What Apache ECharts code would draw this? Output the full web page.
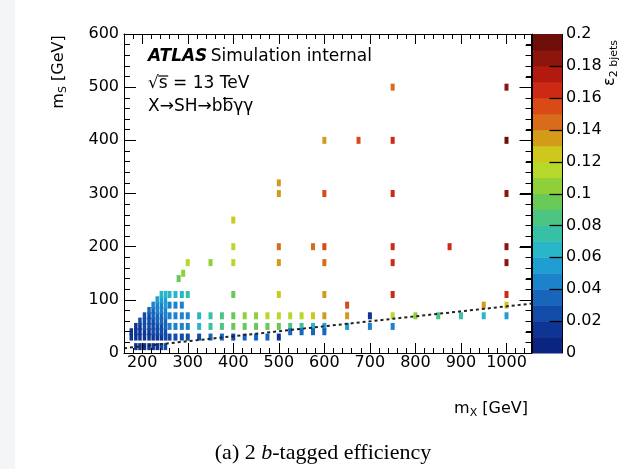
<!DOCTYPE html>
<html>
<head>
<meta charset="utf-8">
<script src="https://cdn.jsdelivr.net/npm/echarts@6/dist/echarts.min.js"></script>
<style>
html,body{margin:0;padding:0;background:#ffffff;}
#c{width:628px;height:469px;}
</style>
</head>
<body>
<div id="c"></div>
<script>
// ---------- data ----------
const xMajorTicks = [200, 300, 400, 500, 600, 700, 800, 900, 1000];
const zMajorTicks = [0.02, 0.04, 0.06, 0.08, 0.1, 0.12, 0.14, 0.16, 0.18];
const effEdges = [0, 0.01, 0.02, 0.03, 0.04, 0.05, 0.06, 0.07, 0.08, 0.09, 0.1,
                  0.11, 0.12, 0.13, 0.14, 0.15, 0.16, 0.17, 0.18, 0.19, 0.2];
const palette = ['#0b2482', '#0f3594', '#134ca8', '#1866bc', '#1c82cc', '#209ed2',
                 '#28b6c8', '#38c0a6', '#4cc482', '#68c858', '#8fcf3a', '#b6d82a',
                 '#cdc71e', '#d49a1a', '#d86c1a', '#d84a16', '#cc2a14', '#b21a10',
                 '#8c150c', '#6e0e0a'];

// [mX, mS, efficiency]
const triangleCells = [
  [176,30,0.012],[176,40,0.014],
  [186,30,0.012],[186,40,0.015],[186,50,0.017],
  [195,30,0.013],[195,40,0.016],[195,50,0.019],[195,60,0.021],
  [205,30,0.014],[205,40,0.018],[205,50,0.021],[205,60,0.024],[205,70,0.027],
  [215,30,0.015],[215,40,0.019],[215,50,0.023],[215,60,0.026],[215,70,0.029],[215,80,0.032],
  [224,30,0.016],[224,40,0.021],[224,50,0.025],[224,60,0.028],[224,70,0.032],[224,80,0.036],[224,90,0.04],
  [233,30,0.018],[233,40,0.023],[233,50,0.027],[233,60,0.031],[233,70,0.035],[233,80,0.04],[233,90,0.045],[233,100,0.05],
  [242,30,0.019],[242,40,0.024],[242,50,0.029],[242,60,0.033],[242,70,0.038],[242,80,0.043],[242,90,0.048],[242,100,0.053],[242,110,0.06],
  [251,30,0.02],[251,40,0.026],[251,50,0.031],[251,60,0.036],[251,70,0.041],[251,80,0.046],[251,90,0.05],[251,100,0.055],[251,110,0.063]
];
const bottomRowCells = [
  [186,12,0.016],[195,12,0.015],[205,12,0.015],[215,12,0.016],
  [224,12,0.017],[233,12,0.018],[242,12,0.02],[251,12,0.022]
];
const nearBlockCells = [
  [260,110,0.062],[273,110,0.064],[287,110,0.066],[300,110,0.072],
  [260,90,0.045],[273,90,0.046],[287,90,0.047],
  [260,70,0.044],[273,70,0.045],[287,70,0.046],[300,70,0.048],
  [260,50,0.04],[273,50,0.041],[287,50,0.042],[300,50,0.043],
  [260,30,0.024],[273,30,0.025],[287,30,0.026],[300,30,0.027]
];
const midRowCells = [
  [400,110,0.098],[500,110,0.122],[600,110,0.135],
  [325,70,0.066],[350,70,0.078],[375,70,0.088],[400,70,0.095],[425,70,0.1],[450,70,0.105],
  [475,70,0.11],[500,70,0.115],[525,70,0.115],[550,70,0.118],[575,70,0.122],[600,70,0.135],
  [325,50,0.064],[350,50,0.074],[375,50,0.082],[400,50,0.09],[425,50,0.094],[450,50,0.095],
  [475,50,0.095],[500,50,0.093],[525,50,0.086],[550,50,0.078],[575,50,0.068],[600,50,0.058],
  [325,30,0.028],[350,30,0.032],[375,30,0.033],[400,30,0.022],[425,30,0.031],[450,30,0.034],
  [475,30,0.036],[500,30,0.018],[525,40,0.036],[550,40,0.037],[575,40,0.038],[600,40,0.036]
];
const highMassCells = [
  [650,90,0.155],[650,70,0.138],[650,50,0.056],
  [700,70,0.018],[700,50,0.045],
  [750,110,0.165],[750,70,0.115],[750,50,0.044],
  [800,70,0.102],[850,70,0.086],[900,70,0.075],
  [950,90,0.135],[950,70,0.066],
  [1000,110,0.162],[1000,90,0.125],[1000,70,0.056]
];
const upperCells = [
  [280,140,0.095],[290,150,0.1],[300,170,0.115],[350,170,0.102],[400,170,0.115],
  [400,200,0.115],[400,250,0.122],
  [500,170,0.135],[500,200,0.145],[500,300,0.138],[500,320,0.135],
  [575,200,0.145],[600,170,0.145],[600,200,0.155],[600,300,0.155],[600,400,0.135],
  [675,400,0.155],
  [750,170,0.165],[750,200,0.165],[750,300,0.165],[750,400,0.165],[750,500,0.145],
  [875,200,0.162],
  [1000,170,0.185],[1000,200,0.185],[1000,300,0.182],[1000,400,0.195],[1000,500,0.185]
];
const cutLine = [[160, 9], [1056, 93]];

// ---------- chart ----------
const SANS = '"DejaVu Sans", sans-serif';
const SERIF = '"Liberation Serif", "Times New Roman", serif';
const chart = echarts.init(document.getElementById('c'), null, {renderer: 'canvas'});

const mctx = document.createElement('canvas').getContext('2d');
function textWidth(t, font) { mctx.font = font; return mctx.measureText(t).width; }
const f17 = '17px "DejaVu Sans"';
const sqrtX0 = 148 + textWidth('\u221A', f17) - 0.5;
const sqrtX1 = 148 + textWidth('\u221As', f17) + 0.5;
const barX0 = 148 + textWidth('X\u2192SH\u2192b', f17) + 0.5;
const barX1 = 148 + textWidth('X\u2192SH\u2192bb', f17) - 0.5;

const pieces = palette.map((c, i) => ({gte: effEdges[i], lt: effEdges[i + 1], color: c}));
const colorbarData = palette.map((c, i) => [0, effEdges[i], effEdges[i + 1], i]);
const colorbarTickData = zMajorTicks.map(v => [0, v]);

const black = '#000';
function majorX(pos, showLabel) {
  return {
    gridIndex: 0, type: 'value', position: pos, min: 160, max: 1056, z: 10,
    axisLine: {show: true, onZero: false, lineStyle: {color: black, width: 1}},
    axisTick: {show: true, inside: true, length: 10, customValues: xMajorTicks, lineStyle: {color: black, width: 1}},
    axisLabel: showLabel ? {show: true, customValues: xMajorTicks, fontSize: 16, fontFamily: SANS, color: black, margin: 2,
                            formatter: v => String(v)}
                         : {show: false},
    splitLine: {show: false}
  };
}
function minorX(pos) {
  return {
    gridIndex: 0, type: 'value', position: pos, min: 160, max: 1056, interval: 20, z: 10,
    axisLine: {show: false, onZero: false},
    axisTick: {show: true, inside: true, length: 5, lineStyle: {color: black, width: 1}},
    axisLabel: {show: false}, splitLine: {show: false}
  };
}
function yMain(pos, showLabel) {
  return {
    gridIndex: 0, type: 'value', position: pos, min: 0, max: 600, interval: 100, z: 10,
    axisLine: {show: true, onZero: false, lineStyle: {color: black, width: 1}},
    axisTick: {show: true, inside: true, length: 12, lineStyle: {color: black, width: 1}},
    minorTick: {show: true, splitNumber: 5, length: 6, lineStyle: {color: black, width: 1}},
    axisLabel: showLabel ? {show: true, fontSize: 16, fontFamily: SANS, color: black, margin: 5} : {show: false},
    splitLine: {show: false}, minorSplitLine: {show: false}
  };
}

const textGraphics = [
  {id: 'strip', type: 'rect', silent: true, shape: {x: 0, y: 0, width: 15, height: 469}, style: {fill: '#f4f5f7'}},
  {id: 'atlas', type: 'text', x: 148, y: 57, silent: true,
   style: {text: '{a|ATLAS} {b|Simulation internal}', verticalAlign: 'middle', fill: black,
           rich: {a: {fontFamily: SANS, fontSize: 17, fontWeight: 'bold', fontStyle: 'italic'},
                  b: {fontFamily: SANS, fontSize: 17}}}},
  {id: 'sqrts', type: 'text', x: 148, y: 84, silent: true,
   style: {text: '\u221As = 13 TeV', font: f17, verticalAlign: 'middle', fill: black}},
  {id: 'sqrtbar', type: 'line', silent: true, shape: {x1: sqrtX0, y1: 76, x2: sqrtX1, y2: 76}, style: {stroke: black, lineWidth: 1.2}},
  {id: 'proc', type: 'text', x: 148, y: 106.5, silent: true,
   style: {text: 'X\u2192SH\u2192bb\u03B3\u03B3', font: f17, verticalAlign: 'middle', fill: black}},
  {id: 'bbar', type: 'line', silent: true, shape: {x1: barX0, y1: 98.5, x2: barX1, y2: 98.5}, style: {stroke: black, lineWidth: 1.2}},
  {id: 'ytitle', type: 'text', x: 59, y: 72, rotation: Math.PI / 2, silent: true,
   style: {text: '{m|m}{s|S}{m| [GeV]}', align: 'center', verticalAlign: 'middle', fill: black,
           rich: {m: {fontFamily: SANS, fontSize: 16, lineHeight: 20},
                  s: {fontFamily: SANS, fontSize: 11, lineHeight: 11, padding: [8, 0, 0, 0]}}}},
  {id: 'xtitle', type: 'text', x: 528, y: 409, silent: true,
   style: {text: '{m|m}{s|X}{m| [GeV]}', align: 'right', verticalAlign: 'middle', fill: black,
           rich: {m: {fontFamily: SANS, fontSize: 16, lineHeight: 20},
                  s: {fontFamily: SANS, fontSize: 11, lineHeight: 11, padding: [8, 0, 0, 0]}}}},
  {id: 'ztitle', type: 'text', x: 610, y: 63, rotation: Math.PI / 2, silent: true,
   style: {text: '{e|\u03B5}{s|2 bjets}', align: 'center', verticalAlign: 'middle', fill: black,
           rich: {e: {fontFamily: SANS, fontSize: 16, lineHeight: 20},
                  s: {fontFamily: SANS, fontSize: 11, lineHeight: 11, padding: [8, 0, 0, 0]}}}},
  {id: 'caption', type: 'text', x: 323, y: 453, silent: true,
   style: {text: '{r|(a) 2 }{i|b}{r|-tagged efficiency}', align: 'center', verticalAlign: 'middle', fill: black,
           rich: {r: {fontFamily: SERIF, fontSize: 22}, i: {fontFamily: SERIF, fontSize: 22, fontStyle: 'italic'}}}}
];

const option = {
  animation: false,
  backgroundColor: '#ffffff',
  grid: [
    {left: 124, top: 34, width: 408, height: 319, outerBoundsMode: 'none', containLabel: false},
    {left: 533, top: 34, width: 30, height: 319, outerBoundsMode: 'none', containLabel: false}
  ],
  xAxis: [
    majorX('bottom', true), minorX('bottom'), majorX('top', false), minorX('top'),
    {gridIndex: 1, type: 'category', data: ['z'], show: false, boundaryGap: true}
  ],
  yAxis: [
    yMain('left', true), yMain('right', false),
    {gridIndex: 1, type: 'value', position: 'right', min: 0, max: 0.2, interval: 0.02, z: 10,
     axisLine: {show: false}, axisTick: {show: false},
     axisLabel: {show: true, fontSize: 16, fontFamily: SANS, color: black, margin: 3,
                 formatter: v => String(parseFloat(Number(v).toFixed(2)))},
     splitLine: {show: false}}
  ],
  visualMap: {type: 'piecewise', show: false, dimension: 2, seriesIndex: [0, 1], pieces: pieces},
  series: [
    {type: 'scatter', xAxisIndex: 0, yAxisIndex: 0, symbol: 'rect', symbolSize: [3.5, 7],
     itemStyle: {opacity: 1}, silent: true, z: 3,
     data: triangleCells.concat(bottomRowCells)},
    {type: 'scatter', xAxisIndex: 0, yAxisIndex: 0, symbol: 'rect', symbolSize: [4, 7],
     itemStyle: {opacity: 1}, silent: true, z: 3,
     data: nearBlockCells.concat(midRowCells, highMassCells, upperCells)},
    {type: 'line', xAxisIndex: 0, yAxisIndex: 0, data: cutLine, symbol: 'none', silent: true, z: 4,
     lineStyle: {color: '#222', width: 2, type: [3, 3]}},
    {type: 'custom', xAxisIndex: 4, yAxisIndex: 2, data: colorbarData, silent: true, z: 1,
     encode: {x: 0, y: [1, 2]},
     renderItem: function (params, api) {
       const p0 = api.coord([0, api.value(1)]);
       const p1 = api.coord([0, api.value(2)]);
       const cs = params.coordSys;
       return {type: 'rect', shape: {x: cs.x, y: p1[1], width: cs.width, height: p0[1] - p1[1] + 0.5},
               style: {fill: palette[api.value(3)]}};
     }},
    {type: 'custom', xAxisIndex: 4, yAxisIndex: 2, data: colorbarTickData, silent: true, z: 20,
     encode: {x: 0, y: 1},
     renderItem: function (params, api) {
       const p = api.coord([0, api.value(1)]);
       const cs = params.coordSys;
       const y = Math.round(p[1]) + 0.5;
       const xr = Math.round(cs.x + cs.width) - 0.5;
       const children = [{type: 'line', shape: {x1: xr - 13, y1: y, x2: xr, y2: y},
                          style: {stroke: black, lineWidth: 1.3}}];
       if (params.dataIndex === 0) {
         children.push({type: 'line', shape: {x1: xr, y1: cs.y, x2: xr, y2: cs.y + cs.height},
                        style: {stroke: black, lineWidth: 1}});
       }
       return {type: 'group', children: children};
     }}
  ],
  graphic: textGraphics
};
chart.setOption(option);

// tick marks of the right frame, positioned through the chart's own y scale
const mainGrid = chart.getModel().getComponent('grid', 0).coordinateSystem.getRect();
const tickGraphics = [];
const mRight = Math.round(mainGrid.x + mainGrid.width) - 0.5;
for (let v = 0; v <= 600; v += 20) {
  const y = Math.round(chart.convertToPixel({yAxisIndex: 0}, v)) + 0.5;
  const len = (v % 100 === 0) ? 12 : 6;
  tickGraphics.push({id: 'yr' + v, type: 'line', silent: true,
    shape: {x1: mRight - len, y1: y, x2: mRight, y2: y}, style: {stroke: black, lineWidth: 1}});
}
tickGraphics.push({id: 'rframe', type: 'line', silent: true,
  shape: {x1: mRight, y1: mainGrid.y, x2: mRight, y2: mainGrid.y + mainGrid.height}, style: {stroke: black, lineWidth: 1}});
chart.setOption({graphic: textGraphics.concat(tickGraphics)});
</script>
</body>
</html>
